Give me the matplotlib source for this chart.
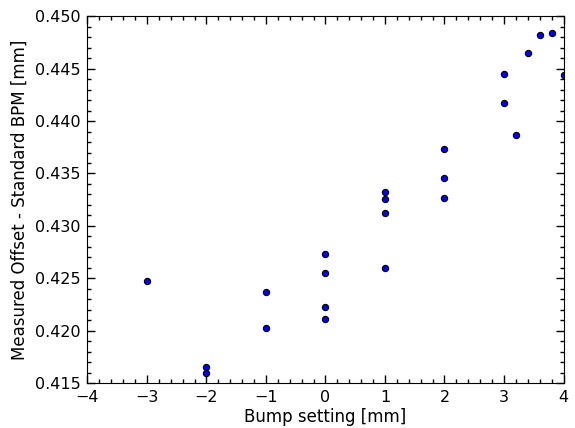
import matplotlib
matplotlib.use("Agg")
import matplotlib.pyplot as plt
from matplotlib.ticker import MultipleLocator, FormatStrFormatter

# bump setting [mm] and measured offset [mm]
bump = [-3, -2, -2, -1, -1, 0, 0, 0, 0, 1, 1, 1, 1, 2, 2, 2,
        3, 3, 3.2, 3.4, 3.6, 3.8, 4.0]
offset = [0.4247, 0.4165, 0.4160, 0.4237, 0.4203,
          0.4273, 0.4255, 0.4223, 0.4211,
          0.4332, 0.4326, 0.4312, 0.4260,
          0.4373, 0.4346, 0.4327,
          0.4445, 0.4417, 0.4387, 0.4465, 0.4482, 0.4484, 0.4444]

plt.rcParams["font.family"] = "DejaVu Sans"
plt.rcParams["font.size"] = 12

fig = plt.figure(figsize=(5.75, 4.28), dpi=100)
ax = fig.add_axes([0.152, 0.105, 0.828, 0.857])

ax.plot(bump, offset, "o", color="b", markeredgecolor="k",
        markeredgewidth=0.8, markersize=4.5, clip_on=True)

ax.set_xlim(-4, 4)
ax.set_ylim(0.415, 0.450)
ax.xaxis.set_major_locator(MultipleLocator(1))
ax.xaxis.set_minor_locator(MultipleLocator(0.2))
ax.yaxis.set_major_locator(MultipleLocator(0.005))
ax.yaxis.set_minor_locator(MultipleLocator(0.001))
ax.yaxis.set_major_formatter(FormatStrFormatter("%.3f"))
ax.tick_params(which="both", direction="in", top=True, right=True,
               labelsize=11.5)
ax.tick_params(which="major", length=6, width=1)
ax.tick_params(which="minor", length=3, width=1)
ax.tick_params(axis="x", pad=5)
ax.tick_params(axis="y", pad=5)

ax.set_xlabel("Bump setting [mm]", labelpad=2)
ax.set_ylabel("Measured Offset - Standard BPM [mm]", labelpad=4)

fig.savefig("out.png", dpi=100)
